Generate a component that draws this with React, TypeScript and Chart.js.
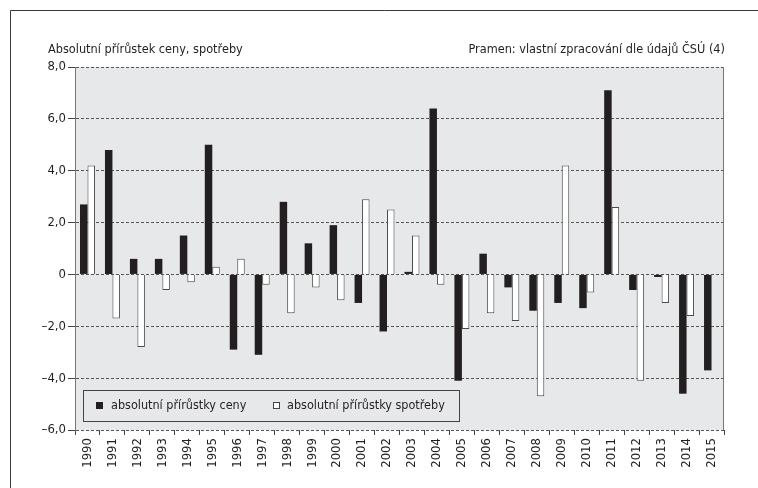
import React, { useEffect, useRef } from "react";
import { Chart, registerables } from "chart.js";

Chart.register(...registerables);

const years = [
  "1990", "1991", "1992", "1993", "1994", "1995", "1996", "1997", "1998", "1999",
  "2000", "2001", "2002", "2003", "2004", "2005", "2006", "2007", "2008", "2009",
  "2010", "2011", "2012", "2013", "2014", "2015",
];

const priceChange = [
  2.7, 4.8, 0.6, 0.6, 1.5, 5.0, -2.9, -3.1, 2.8, 1.2,
  1.9, -1.1, -2.2, 0.1, 6.4, -4.1, 0.8, -0.5, -1.4, -1.1,
  -1.3, 7.1, -0.6, -0.1, -4.6, -3.7,
];

const consumptionChange = [
  4.2, -1.7, -2.8, -0.6, -0.3, 0.3, 0.6, -0.4, -1.5, -0.5,
  -1.0, 2.9, 2.5, 1.5, -0.4, -2.1, -1.5, -1.8, -4.7, 4.2,
  -0.7, 2.6, -4.1, -1.1, -1.6, null,
];

const yTickValues = [-6, -4, -2, 0, 2, 4, 6, 8];
const yTickLabels = ["\u20136,0", "\u20134,0", "\u20132,0", "0", "2,0", "4,0", "6,0", "8,0"];

const seriesNames = ["absolutní přírůstky ceny", "absolutní přírůstky spotřeby"];
const yTitle = "Absolutní přírůstek ceny, spotřeby";
const sourceNote = "Pramen: vlastní zpracování dle údajů ČSÚ (4)";

const FONT = '"Liberation Sans Narrow", "Arial Narrow", "DejaVu Sans Condensed", sans-serif';
const TEXT = "#231f20";
const PLOT_BG = "#e7e8ea";

const decorPlugin = {
  id: "decor",
  beforeDraw(chart: any) {
    const { ctx, chartArea: a } = chart;
    ctx.save();
    ctx.fillStyle = "#ffffff";
    ctx.fillRect(0, 0, chart.width, chart.height);
    ctx.fillStyle = PLOT_BG;
    ctx.fillRect(a.left, a.top, a.right - a.left, a.bottom - a.top);
    ctx.restore();
  },
  afterDraw(chart: any) {
    const { ctx, chartArea: a } = chart;
    ctx.save();
    // outer frame
    ctx.strokeStyle = "#3a3a3a";
    ctx.lineWidth = 1;
    ctx.beginPath();
    ctx.moveTo(10.5, chart.height + 5);
    ctx.lineTo(10.5, 10.5);
    ctx.lineTo(chart.width + 5, 10.5);
    ctx.stroke();
    // right border of plot
    ctx.strokeStyle = "#777";
    ctx.beginPath();
    ctx.moveTo(Math.round(a.right) - 0.5, a.top);
    ctx.lineTo(Math.round(a.right) - 0.5, a.bottom);
    ctx.stroke();
    // header texts
    ctx.fillStyle = TEXT;
    ctx.font = `12.6px ${FONT}`;
    ctx.textBaseline = "alphabetic";
    ctx.textAlign = "left";
    ctx.fillText(yTitle, 48, 53);
    ctx.textAlign = "right";
    ctx.fillText(sourceNote, 725, 53);
    // legend
    const lx = a.left + 8;
    const ly = a.bottom - 40;
    const lw = 376;
    const lh = 31;
    ctx.fillStyle = PLOT_BG;
    ctx.fillRect(lx, ly, lw, lh);
    ctx.strokeStyle = "#444";
    ctx.strokeRect(Math.round(lx) + 0.5, Math.round(ly) + 0.5, lw, lh);
    const cy = ly + lh / 2;
    ctx.font = `12.5px ${FONT}`;
    ctx.textAlign = "left";
    ctx.textBaseline = "middle";
    let x = lx + 13;
    ctx.fillStyle = "#231f20";
    ctx.fillRect(x, cy - 3.5, 7, 7);
    ctx.fillStyle = TEXT;
    ctx.fillText(seriesNames[0], x + 15, cy + 0.5);
    x = lx + 190;
    ctx.fillStyle = "#fff";
    ctx.fillRect(x, cy - 3.5, 7, 7);
    ctx.strokeStyle = "#444";
    ctx.strokeRect(x + 0.5, cy - 3, 6, 6);
    ctx.fillStyle = TEXT;
    ctx.fillText(seriesNames[1], x + 14, cy + 0.5);
    ctx.restore();
  },
};

export default function App() {
  const canvasRef = useRef<HTMLCanvasElement | null>(null);

  useEffect(() => {
    const canvas = canvasRef.current;
    if (!canvas) return;
    const chart = new Chart(canvas, {
      type: "bar",
      data: {
        labels: years,
        datasets: [
          {
            label: seriesNames[0],
            data: priceChange,
            backgroundColor: "#231f20",
            borderWidth: 0,
            categoryPercentage: 0.6,
            barPercentage: 1.0,
          },
          {
            label: seriesNames[1],
            data: consumptionChange as any,
            backgroundColor: "#ffffff",
            borderColor: "#4a4a4a",
            borderWidth: 1,
            categoryPercentage: 0.6,
            barPercentage: 1.0,
          },
        ],
      },
      options: {
        responsive: false,
        animation: false,
        devicePixelRatio: 1,
        layout: { padding: { left: 0, right: 34, top: 67, bottom: 0 } },
        plugins: {
          legend: { display: false },
          tooltip: { enabled: false },
          title: { display: false },
        },
        scales: {
          x: {
            type: "category",
            offset: true,
            grid: {
              display: true,
              offset: true,
              drawOnChartArea: false,
              drawTicks: true,
              tickLength: 5,
              tickColor: "#444",
              color: "#444",
            },
            border: { display: false },
            ticks: {
              autoSkip: false,
              minRotation: 90,
              maxRotation: 90,
              padding: 3,
              color: TEXT,
              font: { family: FONT, size: 13 },
            },
            afterFit: (s: any) => {
              s.height = 58;
            },
          },
          y: {
            min: -6,
            max: 8,
            afterBuildTicks: (s: any) => {
              s.ticks = yTickValues.map((v) => ({ value: v }));
            },
            ticks: {
              padding: 2,
              color: TEXT,
              font: { family: FONT, size: 13 },
              callback: (v: any) => {
                const i = yTickValues.indexOf(Number(v));
                return i >= 0 ? yTickLabels[i] : "";
              },
            },
            grid: {
              color: "#555",
              lineWidth: 1,
              tickLength: 7,
              tickColor: "#444",
              tickBorderDash: [],
            },
            border: { display: true, color: "#777", width: 1, dash: [3, 2] },
            afterFit: (s: any) => {
              s.width = 75;
            },
          },
        },
      },
      plugins: [decorPlugin],
    });
    return () => chart.destroy();
  }, []);

  return (
    <div style={{ position: "absolute", left: 0, top: 0, width: 758, height: 488 }}>
      <canvas ref={canvasRef} width={758} height={488} style={{ display: "block" }} />
    </div>
  );
}
